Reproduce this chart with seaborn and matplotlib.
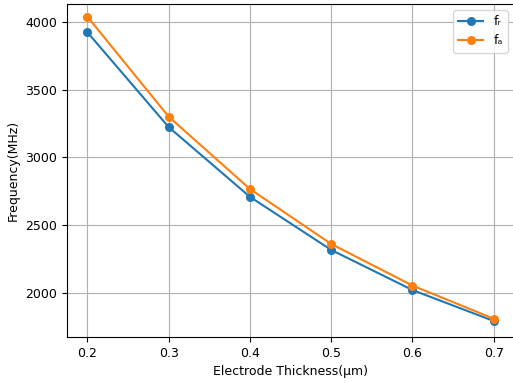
import matplotlib
matplotlib.use("Agg")
import matplotlib.pyplot as plt
import seaborn as sns
import pandas as pd

thickness = [0.2, 0.3, 0.4, 0.5, 0.6, 0.7]
fr = [3925, 3225, 2710, 2318, 2022, 1793]
fa = [4040, 3302, 2768, 2362, 2055, 1810]
labels = ["fᵣ", "fₐ"]

df = pd.DataFrame({
    "x": thickness * 2,
    "y": fr + fa,
    "s": [labels[0]] * len(fr) + [labels[1]] * len(fa),
})

plt.rcParams["font.size"] = 9
fig = plt.figure(figsize=(5.13, 3.83), dpi=100)
ax = fig.add_axes([67/513, 46/383, 447/513, 333/383])
sns.lineplot(data=df, x="x", y="y", hue="s", marker="o", markersize=6.5,
             markeredgewidth=0, palette=["#1f77b4", "#ff7f0e"], ax=ax)
ax.set_xlim(0.175, 0.725)
ax.set_ylim(1675, 4133)
ax.set_xticks(thickness)
ax.set_xticklabels(["0.2", "0.3", "0.4", "0.5", "0.6", "0.7"])
ax.set_yticks([2000, 2500, 3000, 3500, 4000])
ax.grid(True, color="#b0b0b0", linewidth=0.8)
ax.set_axisbelow(True)
ax.set_xlabel("Electrode Thickness(μm)")
ax.set_ylabel("Frequency(MHz)")
ax.legend(title=None, loc="upper right")
fig.savefig("out.png", dpi=100)
